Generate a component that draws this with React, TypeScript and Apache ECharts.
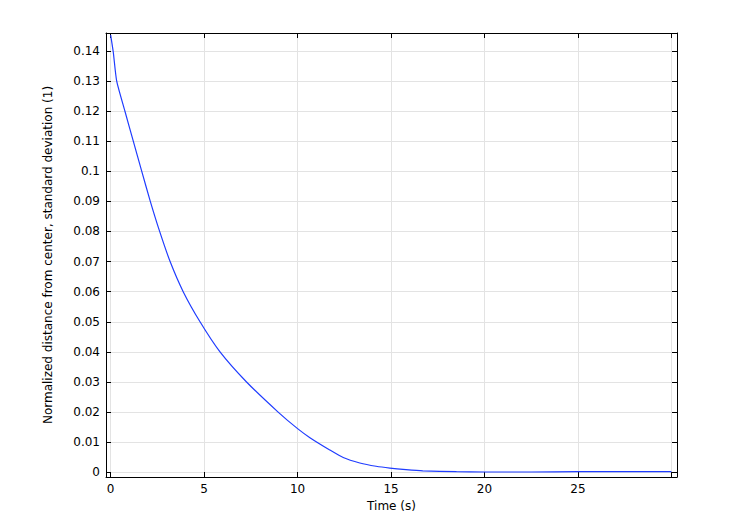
import React, { useEffect, useRef } from 'react';
import * as echarts from 'echarts';

// time (s) and normalized std deviation
const timeValues = [
  0, 0.14, 0.32, 0.76, 1.21, 1.66, 2.12, 2.62, 3.18, 3.88, 4.78, 5.85, 7.27, 8.96, 10.0, 10.66,
  11.7, 12.44, 13.33, 14.2, 14.94, 15.8, 16.7, 18.5, 20, 22.5, 25, 27.5, 30,
];
const stdValues = [
  0.1452, 0.1395, 0.13, 0.12, 0.11, 0.1, 0.09, 0.08, 0.07, 0.06, 0.05, 0.04, 0.03, 0.02, 0.0145,
  0.0115, 0.0075, 0.0049, 0.0031, 0.002, 0.0014, 0.0009, 0.0005, 0.0002, 0.0001, 0.0001, 0.0002,
  0.0002, 0.0002,
];

const xTicks = [0, 5, 10, 15, 20, 25, 30];
const xLabels = [0, 5, 10, 15, 20, 25];
const yTicks = [0, 0.01, 0.02, 0.03, 0.04, 0.05, 0.06, 0.07, 0.08, 0.09, 0.1, 0.11, 0.12, 0.13, 0.14];

const FONT = 'DejaVu Sans';

const App: React.FC = () => {
  const chartRef = useRef<HTMLDivElement>(null);

  useEffect(() => {
    if (!chartRef.current) return;
    const chart = echarts.init(chartRef.current, undefined, { renderer: 'svg' });

    const axisLine = { show: true, onZero: false, lineStyle: { color: '#000', width: 1 } };
    const tick = (values: number[]) => ({
      show: true,
      inside: true,
      length: 5,
      customValues: values,
      lineStyle: { color: '#000' },
    });
    const xRange = { min: -0.25, max: 30.3 };
    const yRange = { min: -0.00156, max: 0.1459 };

    chart.setOption({
      animation: false,
      backgroundColor: '#fff',
      textStyle: { fontFamily: FONT },
      grid: { left: 106, right: 59, top: 33, bottom: 48, containLabel: false },
      xAxis: [
        {
          type: 'value',
          position: 'bottom',
          ...xRange,
          name: 'Time (s)',
          nameLocation: 'middle',
          nameGap: 19,
          nameTextStyle: { color: '#000', fontSize: 12, fontFamily: FONT },
          axisLine,
          axisTick: tick(xTicks),
          axisLabel: {
            customValues: xLabels,
            margin: 6,
            color: '#000',
            fontSize: 12,
            fontFamily: FONT,
          },
          splitLine: { show: true, lineStyle: { color: '#e3e3e3', width: 1 } },
        },
        {
          type: 'value',
          position: 'top',
          ...xRange,
          axisLine,
          axisTick: tick(xTicks),
          axisLabel: { show: false },
          splitLine: { show: false },
        },
      ],
      yAxis: [
        {
          type: 'value',
          position: 'left',
          ...yRange,
          name: 'Normalized distance from center, standard deviation (1)',
          nameLocation: 'middle',
          nameGap: 52,
          nameTextStyle: { color: '#000', fontSize: 12, fontFamily: FONT },
          axisLine,
          axisTick: tick(yTicks),
          axisLabel: {
            customValues: yTicks,
            margin: 6,
            color: '#000',
            fontSize: 12,
            fontFamily: FONT,
            formatter: (v: number) => (v === 0 ? '0' : String(+v.toFixed(2))),
          },
          splitLine: { show: true, lineStyle: { color: '#e3e3e3', width: 1 } },
        },
        {
          type: 'value',
          position: 'right',
          ...yRange,
          axisLine,
          axisTick: tick(yTicks),
          axisLabel: { show: false },
          splitLine: { show: false },
        },
      ],
      series: [
        {
          type: 'line',
          xAxisIndex: 0,
          yAxisIndex: 0,
          data: timeValues.map((t, i) => [t, stdValues[i]]),
          smooth: 0.2,
          showSymbol: false,
          lineStyle: { color: '#1f3cff', width: 1.2 },
        },
      ],
    });

    return () => chart.dispose();
  }, []);

  return (
    <div
      ref={chartRef}
      style={{ position: 'absolute', left: 0, top: 0, width: 736, height: 525 }}
    />
  );
};

export default App;
